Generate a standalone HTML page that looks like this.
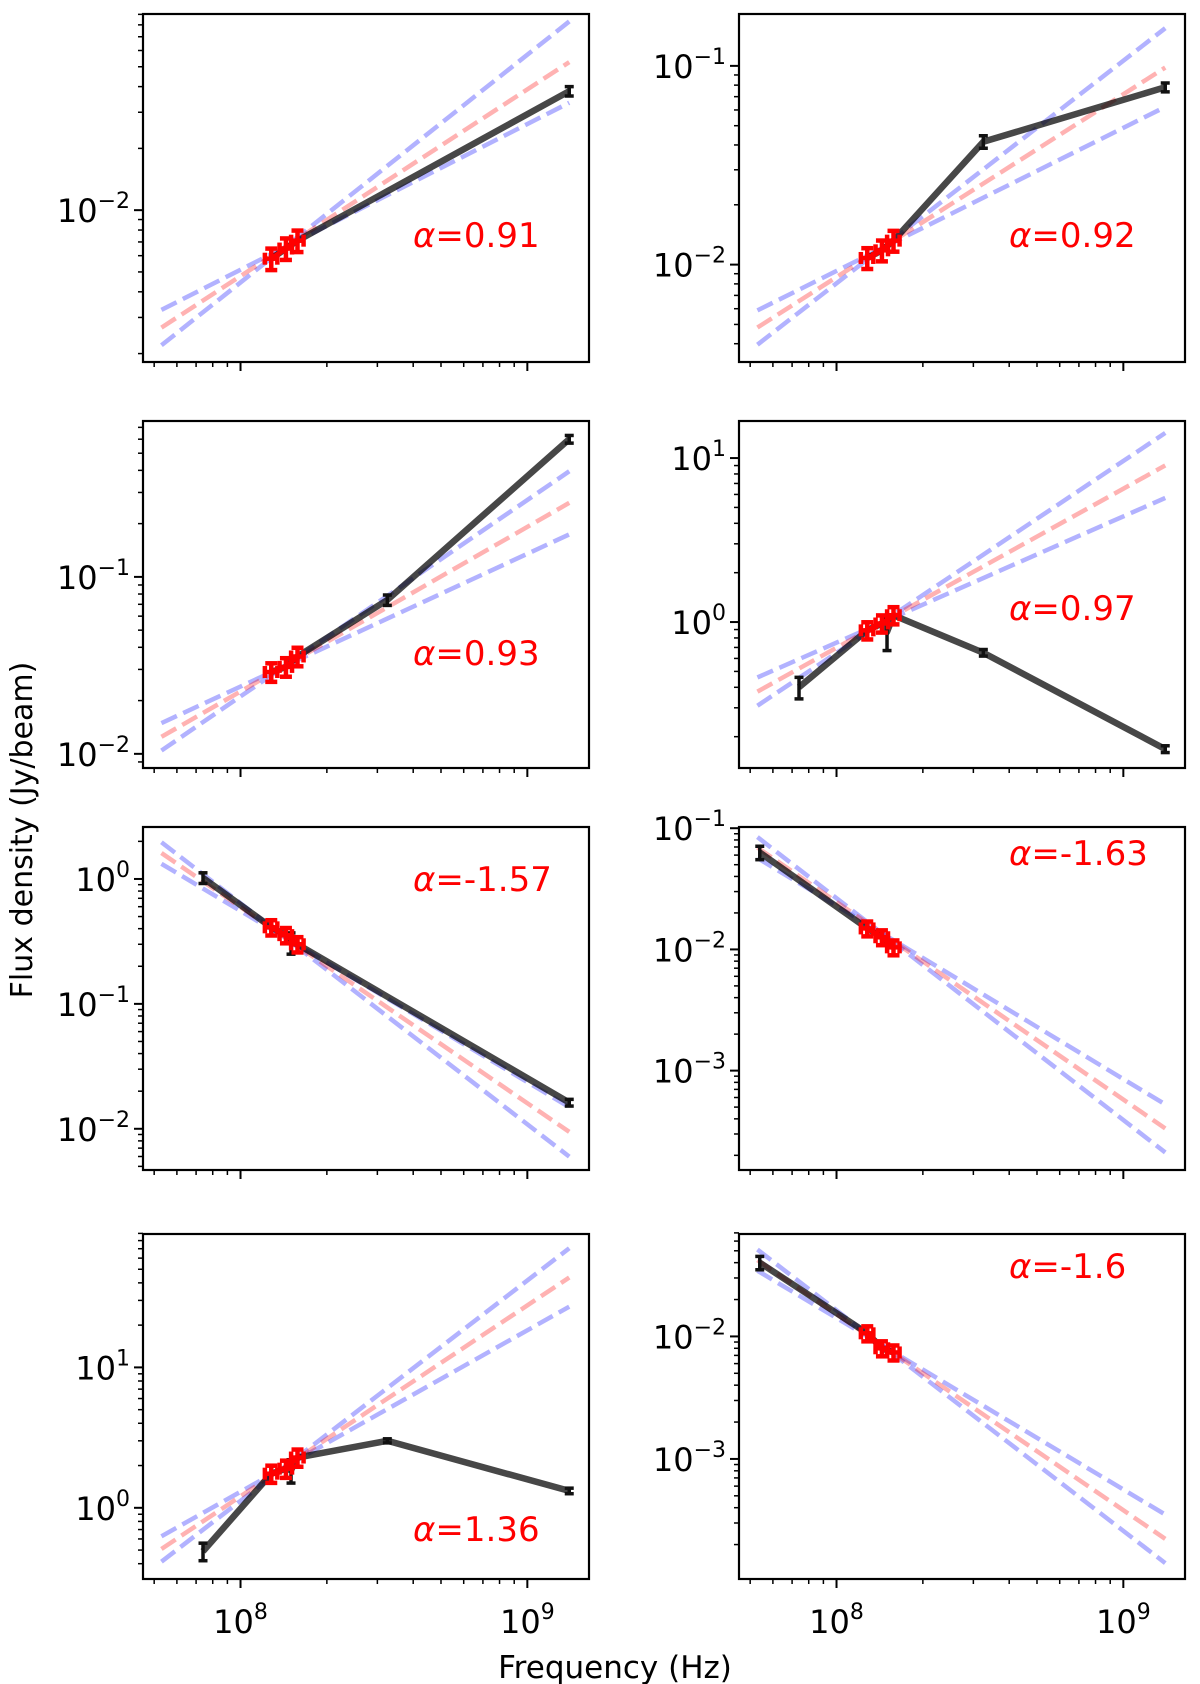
<!DOCTYPE html>
<html><head><meta charset="utf-8"><title>Radio spectra</title>
<style>
html,body{margin:0;padding:0;background:#fff;}
svg{display:block;}
text{font-family:"DejaVu Sans","Liberation Sans",sans-serif;}
</style></head>
<body>
<svg id="fig" width="1200" height="1684" viewBox="0 0 1200 1684" xmlns="http://www.w3.org/2000/svg">
<text x="0" y="0" font-size="30" text-anchor="middle" transform="translate(32,830) rotate(-90)">Flux density (Jy/beam)</text>
<text x="615" y="1678" font-size="31" text-anchor="middle">Frequency (Hz)</text>
</svg>
<script>
// ---- data ----
const redFreqs = [1.28e8, 1.44e8, 1.58e8];
const redFlux = [
  [0.0058, 0.0065, 0.0071],
  [0.0108, 0.0118, 0.0132],
  [0.0290, 0.0310, 0.0355],
  [0.89, 0.98, 1.10],
  [0.41, 0.355, 0.30],
  [0.0149, 0.0126, 0.0104],
  [1.75, 1.9, 2.28],
  [0.0106, 0.0080, 0.0074]
];
const redRelErr = [0.12, 0.12, 0.12, 0.12, 0.14, 0.14, 0.14, 0.14];
const blackFreqs = [
  [1.4e9],
  [3.25e8, 1.4e9],
  [3.25e8, 1.4e9],
  [7.4e7, 1.5e8, 3.25e8, 1.4e9],
  [7.4e7, 1.5e8, 1.4e9],
  [5.4e7],
  [7.4e7, 1.5e8, 3.25e8, 1.4e9],
  [5.4e7]
];
const blackFlux = [
  [0.038],
  [0.0415, 0.078],
  [0.074, 0.60],
  [0.40, 0.87, 0.65, 0.168],
  [1.02, 0.31, 0.0162],
  [0.063],
  [0.49, 1.85, 3.0, 1.32],
  [0.040]
];
const blackErr = [
  [0.002],
  [0.003, 0.004],
  [0.005, 0.03],
  [0.06, 0.2, 0.03, 0.008],
  [0.1, 0.06, 0.001],
  [0.008],
  [0.07, 0.35, 0.1, 0.06],
  [0.005]
];
const alphas = [0.91, 0.92, 0.93, 0.97, -1.57, -1.63, 1.36, -1.6];
const alphaErrs = [0.2, 0.2, 0.18, 0.2, 0.2, 0.2, 0.21, 0.2];
const fitAmpLog = [-2.18, -1.92, -1.503, -0.006, -0.469, -1.862, 0.293, -2.067];
const alphaLabels = ["0.91", "0.92", "0.93", "0.97", "-1.57", "-1.63", "1.36", "-1.6"];
const yLogMin = [-2.74, -2.49, -2.08, -0.89, -2.33, -3.82, -0.507, -3.98];
const yLogMax = [-1.044, -0.739, -0.119, 1.226, 0.416, -0.99, 1.95, -1.164];
const xTickLabels = ["8", "9"];
// ---- layout ----
const colX = [143, 739], colW = 446;
const rowY = [14, 421, 827, 1234], rowH = [348, 347, 343, 345];
const labelDY = [220, 220, 231, 186, 51, 25, 294, 31];
const xLogMin = 7.66, xLogMax = 9.215, pivotLog = Math.log10(1.43e8);
const fitLo = 5.3e7, fitHi = 1.4e9;
const NS = "http://www.w3.org/2000/svg";
const fig = document.getElementById('fig');
function mk(tag, attrs, parent) {
  const e = document.createElementNS(NS, tag);
  for (const k in attrs) e.setAttribute(k, attrs[k]);
  (parent || fig).appendChild(e);
  return e;
}
for (let p = 0; p < 8; p++) {
  const c = p % 2, r = Math.floor(p / 2);
  const X0 = colX[c], Y0 = rowY[r], W = colW, H = rowH[r];
  const g = mk('g', {});
  
  
  const xs = v => X0 + (Math.log10(v) - xLogMin) / (xLogMax - xLogMin) * W;
  const ys = v => Y0 + H - (Math.log10(v) - yLogMin[p]) / (yLogMax[p] - yLogMin[p]) * H;
  const clipId = 'clip' + p;
  const cp = mk('clipPath', {id: clipId}, g);
  mk('rect', {x: X0, y: Y0, width: W, height: H}, cp);
  const plot = mk('g', {'clip-path': 'url(#' + clipId + ')'}, g);
  const fits = [[alphas[p] + alphaErrs[p], 'rgba(0,0,255,0.3)', 'fit-upper'], [alphas[p] - alphaErrs[p], 'rgba(0,0,255,0.3)', 'fit-lower'], [alphas[p], 'rgba(255,0,0,0.3)', 'fit-best']];
  fits.forEach(f => {
    const fl = v => Math.pow(10, fitAmpLog[p] + f[0] * (Math.log10(v) - pivotLog));
    const ln = mk('line', {x1: xs(fitLo), y1: ys(fl(fitLo)), x2: xs(fitHi), y2: ys(fl(fitHi)), stroke: f[1], 'stroke-width': 4.5, 'stroke-dasharray': '17 7'}, plot);
    
    
  });
  const pts = [];
  redFreqs.forEach((f, i) => pts.push([f, redFlux[p][i]]));
  blackFreqs[p].forEach((f, i) => pts.push([f, blackFlux[p][i]]));
  pts.sort((a, b) => a[0] - b[0]);
  const pl = mk('polyline', {points: pts.map(q => xs(q[0]).toFixed(1) + ',' + ys(q[1]).toFixed(1)).join(' '), fill: 'none', stroke: 'rgba(0,0,0,0.72)', 'stroke-width': 6.5, 'stroke-linejoin': 'round'}, plot);
  
  
  blackFreqs[p].forEach((f, i) => {
    const x = xs(f), y1 = ys(blackFlux[p][i] + blackErr[p][i]), y2 = ys(Math.max(blackFlux[p][i] - blackErr[p][i], 1e-9));
    const eb = mk('g', {stroke: '#111', 'stroke-width': 3.5}, plot);
    
    
    mk('line', {x1: x, y1: y1, x2: x, y2: y2}, eb);
    mk('line', {x1: x - 4.5, y1: y1, x2: x + 4.5, y2: y1}, eb);
    mk('line', {x1: x - 4.5, y1: y2, x2: x + 4.5, y2: y2}, eb);
  });
  const rl = mk('polyline', {points: redFreqs.map((f, i) => xs(f).toFixed(1) + ',' + ys(redFlux[p][i]).toFixed(1)).join(' '), fill: 'none', stroke: 'red', 'stroke-width': 5}, plot);
  
  
  redFreqs.forEach((f, i) => {
    const v = redFlux[p][i], e = v * redRelErr[p];
    const x = xs(f), y = ys(v), y1 = ys(v + e), y2 = ys(v - e), xa = xs(f * 0.95), xb = xs(f * 1.05);
    const eb = mk('g', {stroke: 'red', 'stroke-width': 4.5}, plot);
    
    
    mk('line', {x1: x, y1: y1, x2: x, y2: y2}, eb);
    mk('line', {x1: x - 6, y1: y1, x2: x + 6, y2: y1}, eb);
    mk('line', {x1: x - 6, y1: y2, x2: x + 6, y2: y2}, eb);
    mk('line', {x1: xa, y1: y, x2: xb, y2: y}, eb);
    mk('line', {x1: xa, y1: y - 6, x2: xa, y2: y + 6}, eb);
    mk('line', {x1: xb, y1: y - 6, x2: xb, y2: y + 6}, eb);
  });
  const fr = mk('rect', {x: X0, y: Y0, width: W, height: H, fill: 'none', stroke: '#000', 'stroke-width': 2.2}, g);
  
  
  for (let d = Math.floor(yLogMin[p]); d <= Math.ceil(yLogMax[p]); d++) {
    for (let m = 1; m <= 9; m++) {
      const lv = d + Math.log10(m);
      if (lv < yLogMin[p] - 1e-6 || lv > yLogMax[p] + 0.02) continue;
      const y = ys(Math.pow(10, lv));
      mk('line', {x1: X0, y1: y, x2: X0 - (m === 1 ? 9 : 5), y2: y, stroke: '#000', 'stroke-width': m === 1 ? 2 : 1.5}, g);
      if (m === 1) {
        const t = mk('text', {x: X0 - 13, y: y + 12, 'font-size': 32, 'text-anchor': 'end'}, g);
        
        
        const a = mk('tspan', {}, t); a.textContent = '10';
        const b = mk('tspan', {'font-size': 22, dy: -14}, t); b.textContent = '\u2212' + Math.abs(d);
        if (d >= 0) b.textContent = String(d);
      }
    }
  }
  for (let d = 7; d <= 9; d++) {
    for (let m = 1; m <= 9; m++) {
      const lv = d + Math.log10(m);
      if (lv < xLogMin || lv > xLogMax) continue;
      const x = xs(Math.pow(10, lv));
      mk('line', {x1: x, y1: Y0 + H, x2: x, y2: Y0 + H + (m === 1 ? 9 : 5), stroke: '#000', 'stroke-width': m === 1 ? 2 : 1.5}, g);
      if (m === 1 && r === 3) {
        const t = mk('text', {x: x, y: 1633, 'font-size': 32, 'text-anchor': 'middle'}, g);
        
        
        const a = mk('tspan', {}, t); a.textContent = '10';
        const b = mk('tspan', {'font-size': 22, dy: -14}, t); b.textContent = xTickLabels[d - 8];
      }
    }
  }
  const at = mk('text', {x: X0 + 270, y: Y0 + labelDY[p] + 13, 'font-size': 34, fill: 'red'}, g);
  
  
  const s1 = mk('tspan', {'font-style': 'italic'}, at); s1.textContent = '\u03b1';
  const s2 = mk('tspan', {}, at); s2.textContent = '=' + alphaLabels[p];
}
</script>
</body></html>
